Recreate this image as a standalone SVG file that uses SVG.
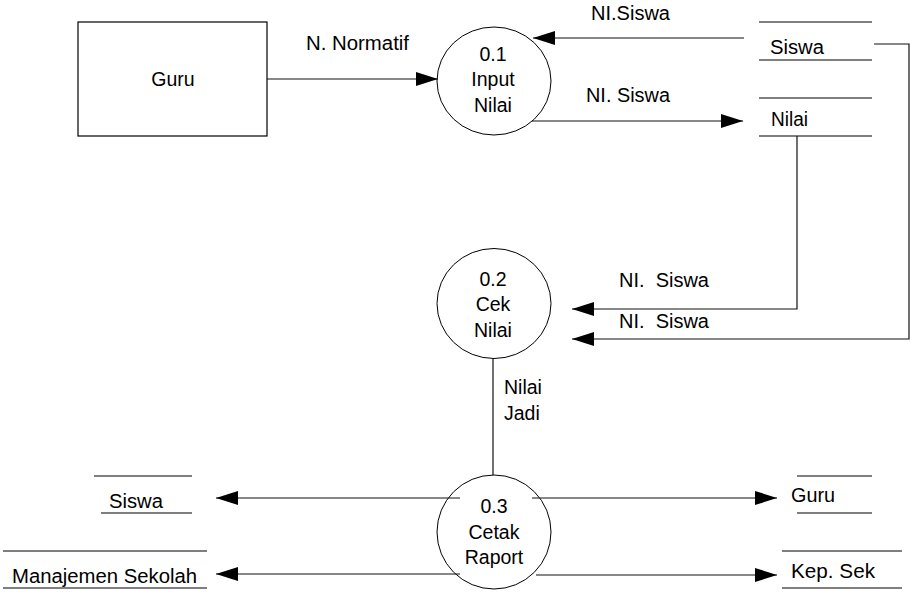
<svg xmlns="http://www.w3.org/2000/svg" width="910" height="593" viewBox="0 0 910 593">
<style>
text{font-family:"Liberation Sans",Arial,sans-serif;font-size:19.5px;fill:#000}
.c{text-anchor:middle}
.proc{fill:#fff;stroke:#000;stroke-width:1}
.ent{fill:#fff;stroke:#000;stroke-width:1.2}
.store line{stroke:#555;stroke-width:1.5}
.conn path,.conn line{fill:none;stroke:#111;stroke-width:1.2}
</style>
<defs>
<marker id="ah" markerUnits="userSpaceOnUse" markerWidth="22" markerHeight="14" refX="22" refY="7" orient="auto">
<path d="M0,0 L22,7 L0,14 z" fill="#000"/>
</marker>
</defs>
<rect width="910" height="593" fill="#fff"/>

<g id="guru-entity">
<rect class="ent" x="78" y="22" width="189" height="114"/>
<text class="c" x="173" y="86">Guru</text>
</g>

<g id="p01">
<ellipse class="proc" cx="494" cy="81" rx="57" ry="54"/>
<text class="c" x="493" y="61">0.1</text>
<text class="c" x="493" y="86">Input</text>
<text class="c" x="493" y="112">Nilai</text>
</g>

<g id="p02">
<ellipse class="proc" cx="494" cy="303.5" rx="57" ry="55"/>
<text class="c" x="493" y="286">0.2</text>
<text class="c" x="493" y="311">Cek</text>
<text class="c" x="493" y="337">Nilai</text>
</g>

<g id="p03">
<ellipse class="proc" cx="494" cy="532" rx="57" ry="57"/>
<text class="c" x="494" y="513">0.3</text>
<text class="c" x="494" y="539">Cetak</text>
<text class="c" x="494" y="564">Raport</text>
</g>

<g id="store-siswa-top" class="store">
<line x1="759" y1="22" x2="872" y2="22"/>
<line x1="759" y1="60" x2="872" y2="60"/>
<text x="770" y="54" textLength="54" lengthAdjust="spacingAndGlyphs">Siswa</text>
</g>

<g id="store-nilai" class="store">
<line x1="759" y1="98" x2="872" y2="98"/>
<line x1="759" y1="136" x2="872" y2="136"/>
<text x="771" y="126" textLength="37" lengthAdjust="spacingAndGlyphs">Nilai</text>
</g>

<g id="store-siswa-bottom" class="store">
<line x1="94" y1="476" x2="192" y2="476"/>
<line x1="101" y1="513" x2="192" y2="513"/>
<text x="109" y="508" textLength="54" lengthAdjust="spacingAndGlyphs">Siswa</text>
</g>

<g id="store-manajemen" class="store">
<line x1="3" y1="551" x2="207" y2="551"/>
<line x1="3" y1="588" x2="207" y2="588"/>
<text x="12" y="583" textLength="185" lengthAdjust="spacingAndGlyphs">Manajemen Sekolah</text>
</g>

<g id="store-guru" class="store">
<line x1="797" y1="476" x2="872" y2="476"/>
<line x1="797" y1="513" x2="872" y2="513"/>
<text x="791" y="502" textLength="44" lengthAdjust="spacingAndGlyphs">Guru</text>
</g>

<g id="store-kepsek" class="store">
<line x1="782" y1="551" x2="902" y2="551"/>
<line x1="782" y1="588" x2="902" y2="588"/>
<text x="791" y="578" textLength="84" lengthAdjust="spacingAndGlyphs">Kep. Sek</text>
</g>

<g id="connectors" class="conn">
<line x1="267" y1="79" x2="438" y2="79" marker-end="url(#ah)"/>
<line x1="744" y1="38" x2="533" y2="38" marker-end="url(#ah)"/>
<line x1="532" y1="121" x2="743" y2="121" marker-end="url(#ah)"/>
<path d="M797,136 V309 H572" marker-end="url(#ah)"/>
<path d="M874,44 H909 V339 H572" marker-end="url(#ah)"/>
<line x1="493" y1="358" x2="493" y2="475"/>
<line x1="460" y1="498" x2="216" y2="498" marker-end="url(#ah)"/>
<line x1="532" y1="498" x2="777" y2="498" marker-end="url(#ah)"/>
<line x1="460" y1="574" x2="216" y2="574" marker-end="url(#ah)"/>
<line x1="536" y1="575" x2="777" y2="575" marker-end="url(#ah)"/>
</g>

<g id="labels">
<text x="306" y="50" textLength="103" lengthAdjust="spacingAndGlyphs">N. Normatif</text>
<text x="591" y="20" textLength="79" lengthAdjust="spacingAndGlyphs">NI.Siswa</text>
<text x="586" y="102" textLength="84" lengthAdjust="spacingAndGlyphs">NI. Siswa</text>
<text x="619" y="287" textLength="90" lengthAdjust="spacingAndGlyphs" xml:space="preserve">NI.  Siswa</text>
<text x="619" y="328" textLength="90" lengthAdjust="spacingAndGlyphs" xml:space="preserve">NI.  Siswa</text>
<text x="504" y="394">Nilai</text>
<text x="504" y="420">Jadi</text>
</g>
</svg>
